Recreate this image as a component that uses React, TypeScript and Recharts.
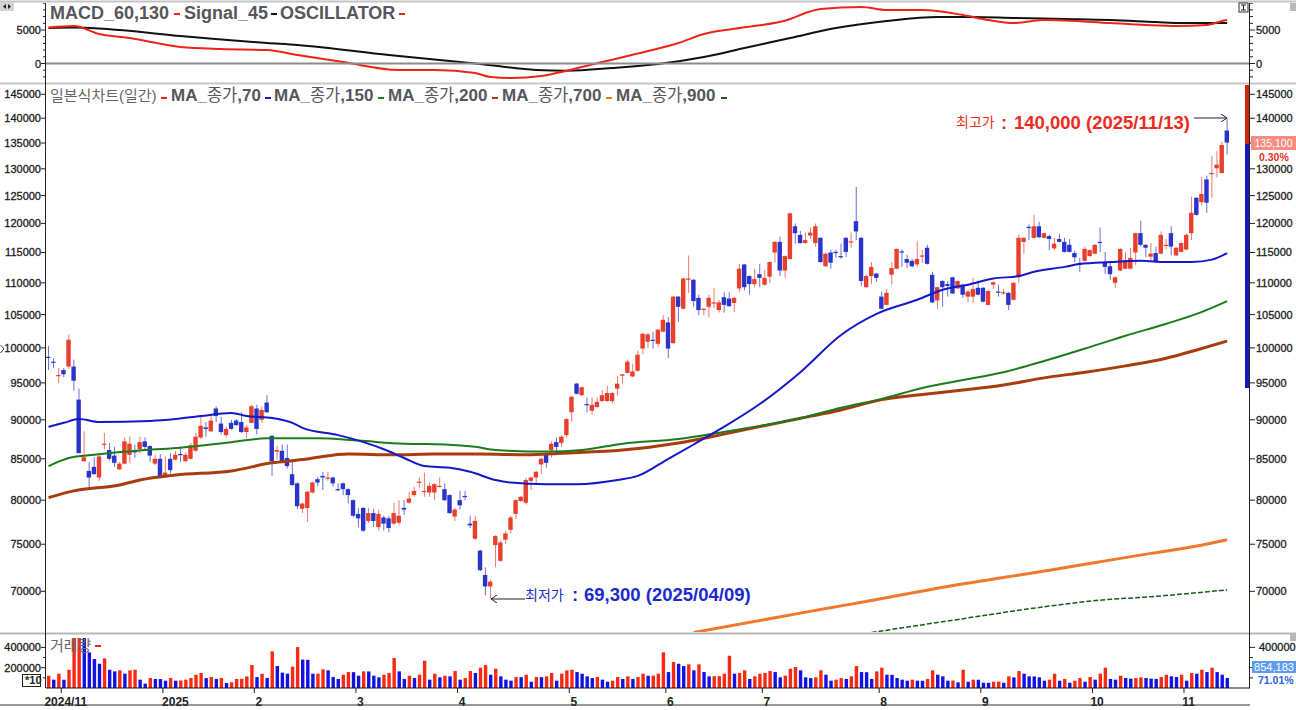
// App.tsx - HTS style candle chart (MACD / price / volume panels)
import React from "react";
import { ComposedChart, LineChart, BarChart, Bar, Line, XAxis, YAxis } from "recharts";

/* ======================================================
   DATA
====================================================== */
const opens = [
  98700,98000,96000,96800,97300,97300,92700,84700,83500,84000,
  82700,86800,86100,85400,83700,84400,85500,86000,86200,87200,
  86600,84400,85000,82800,85000,84900,85600,84700,85000,86000,
  87700,89000,88500,91500,89500,88000,89600,89900,89700,88400,
  89600,91500,90000,92300,87900,85900,86000,85100,83100,82000,
  79000,79100,80900,82500,82900,82600,82700,81300,82000,81300,
  80000,78400,79100,77600,78500,76900,78000,77900,77300,77400,
  79100,79700,80600,82100,81000,80900,80900,81600,81300,80600,
  78100,80000,80500,77300,75600,74300,71700,70500,74900,73200,
  75500,76600,78400,79900,79700,82300,82700,84300,85500,86100,
  87100,87000,88000,91000,94900,93300,92100,91200,91700,92500,
  92500,92500,94200,96000,96400,95900,96700,99900,100900,101200,
  100600,102400,103800,100700,107800,105900,110500,110500,107600,105800,
  106200,106800,105700,107700,107500,106800,109100,113000,111100,109800,
  111400,109700,111000,115000,116800,112000,113900,119500,118000,116600,
  117900,116600,117500,112700,115000,115100,114400,117500,116800,120400,
  117500,109300,111100,111500,107800,106500,111300,112300,115200,113900,
  113600,113000,114400,115800,111300,107200,110300,109800,110900,109100,
  109700,107800,107800,109200,109200,106500,109700,108600,108400,108400,
  107300,110900,116800,119400,117500,119500,117500,117800,115700,117300,
  116800,116300,114900,113100,113600,114400,114800,116800,113400,112700,
  110000,112000,112300,112300,115000,118300,116300,114300,114900,114800,
  116200,118300,114500,115100,115500,118300,124600,123800,128000,129000,
  130100,129200,137500,
];
const highs = [
  100300,98500,97100,97100,102000,98300,94200,88500,84600,85200,
  85700,88300,87000,86500,84600,87700,87800,86800,87800,87700,
  86700,85500,85600,85300,85700,86000,86600,85800,87000,88300,
  90600,89700,90700,91800,90400,89100,90000,90100,91000,89300,
  92000,92000,91800,93300,88000,86600,86800,86800,84600,82100,
  79700,81100,82200,82800,83400,83400,82800,82000,82100,81400,
  80100,79100,79200,79100,79000,78900,78200,78200,79700,80000,
  80000,81000,81600,82700,83300,82100,82000,82700,82000,80700,
  79100,81100,81100,78200,78200,74400,72500,71200,76000,75400,
  76500,78200,80100,80500,82700,82800,83500,85100,85600,87200,
  87700,88000,90200,93200,95000,94500,93000,93000,93000,94000,
  94600,93700,95900,96200,98300,97700,99600,102200,102200,102400,
  102800,104900,104600,107900,107900,110800,114500,110600,108100,106000,
  108100,109200,107300,108500,108500,107700,113100,113100,111200,112300,
  113100,112100,113500,116900,117700,114500,121900,120000,118700,118400,
  119300,120000,117600,115000,115500,115500,116500,117600,118400,126600,
  117600,111300,113400,111600,108600,109000,113400,115700,115500,114600,
  113900,117000,115400,116300,111800,109400,110400,110300,111000,110400,
  109800,108900,110800,110000,109300,108800,110200,109700,109000,108500,
  110100,118100,117600,119800,121500,120300,118400,118000,117500,118200,
  117500,117300,115300,114100,116000,115500,116400,119300,115100,113400,
  111000,115700,115100,115800,118400,120500,116400,116600,116000,118600,
  117300,119500,115900,116700,118300,124800,124700,128400,128700,132500,
  133400,135300,140000,
];
const lows = [
  96800,97100,95000,95800,97000,93900,85700,84600,81200,83100,
  82300,86200,84800,84000,83600,84300,84500,85100,85700,86000,
  84600,84200,82700,82700,83200,84800,84600,84600,84900,85900,
  87500,87800,88400,89700,88100,87700,88700,89200,88300,87600,
  89500,88100,89600,90900,82900,84900,84600,83800,81700,79000,
  78500,77500,80800,81700,81200,82300,81600,81100,80600,79600,
  78000,76900,76400,77400,76900,76500,76500,76300,77200,77100,
  78300,79600,80400,81400,80400,80400,80000,81500,79900,78400,
  77600,78900,80000,76800,75500,72100,69600,69300,72500,73100,
  75000,76200,77800,79800,79500,81200,82000,83100,83900,85200,
  86000,86500,87700,89700,93400,93200,91000,90700,91600,92400,
  92400,92200,93300,94900,96300,95800,96600,99100,100000,99900,
  100100,102300,98500,100600,103900,105800,108400,106200,104900,104900,
  104600,106000,105300,105300,106200,105400,108500,108800,108100,109300,
  109300,109500,110000,113300,111100,110800,113800,116500,116500,116500,
  117300,116000,113300,112600,112300,114100,113900,114200,115800,117100,
  109500,109200,109800,110200,105800,106400,109700,112200,112600,112400,
  112500,112600,113300,113000,106800,105900,106200,107800,108200,109000,
  107600,106900,106800,108000,106900,106400,109000,107800,108100,105700,
  107200,110000,114800,117100,117400,117500,117400,115400,115400,116700,
  115000,115000,113400,111800,113400,114300,114700,115100,111400,110500,
  109200,111900,112200,112200,112900,116000,114200,113400,113300,114700,
  115500,114500,114400,115000,115400,117100,121400,123200,121900,124600,
  128400,129100,132700,
];
const closes = [
  98600,97900,96100,96200,101200,95300,85700,85200,82700,83100,
  85300,86900,85000,84500,84400,87200,86900,85800,87100,86500,
  85400,85000,82800,83300,83600,85500,85500,85500,86700,87800,
  89200,88800,89900,90500,88400,88800,88800,89300,88400,89000,
  91800,88800,91300,91000,84700,86100,84700,84100,81800,79300,
  79600,81000,82100,82100,82700,82700,82000,81200,81300,80600,
  78200,77900,76500,78500,77600,78400,77300,76800,78500,78200,
  78900,80200,81100,82200,81100,81700,81900,81700,80000,78500,
  78900,79400,80400,77100,77600,72200,70500,71000,75900,75200,
  76200,78000,80000,80400,82400,82700,83400,85000,84500,86900,
  86500,87800,90100,93100,93500,94400,92000,92000,92400,93300,
  93600,93600,94900,96200,98000,96600,99000,102100,102000,101100,
  102700,104200,99900,107800,106200,110700,110700,107100,105700,105900,
  107600,106900,106900,106500,106300,107600,112300,109300,109800,110600,
  110800,110800,113400,116800,112000,114400,121800,118300,116600,117100,
  118400,119500,113400,114800,113300,115000,114300,115100,116900,118600,
  110300,111100,112600,110800,105900,108400,112400,115600,115100,113300,
  112700,113900,114500,113100,106900,109300,109300,109500,108300,110300,
  108100,108600,109000,108100,107000,108700,110100,108500,108500,106500,
  110000,117500,117500,119300,119500,117600,118300,117300,116500,116800,
  115100,115100,114200,113000,115600,115400,116300,116700,112600,111400,
  110900,115600,113700,114100,118300,116300,115800,114800,113400,118000,
  116300,116000,115800,116600,118000,121900,121500,125300,123700,129200,
  130800,134600,135100,
];
const volumes = [
  121000,82000,141000,81000,180000,540000,600000,560000,351000,285000,
  239000,292000,180000,164000,174000,141000,174000,180000,82000,43000,
  98000,89000,88000,72000,98000,72000,74000,82000,98000,131000,
  148000,98000,108000,89000,98000,49000,56000,89000,90000,115000,
  226000,108000,141000,98000,361000,216000,151000,141000,210000,403000,
  280000,278000,141000,142000,184000,174000,108000,89000,131000,157000,
  156000,121000,164000,163000,121000,105000,131000,148000,295000,164000,
  89000,121000,98000,131000,269000,82000,141000,105000,121000,115000,
  167000,82000,98000,167000,148000,200000,226000,131000,190000,115000,
  82000,72000,108000,107000,131000,62000,108000,107000,115000,148000,
  72000,141000,174000,180000,157000,141000,115000,98000,108000,82000,
  62000,72000,108000,89000,115000,89000,108000,141000,121000,122000,
  141000,351000,157000,256000,239000,216000,233000,174000,233000,157000,
  115000,116000,117000,141000,318000,141000,148000,174000,89000,115000,
  141000,148000,167000,157000,105000,121000,190000,207000,174000,105000,
  98000,105000,174000,131000,72000,82000,98000,89000,115000,216000,
  157000,156000,89000,164000,200000,131000,130000,98000,82000,72000,
  82000,72000,71000,89000,174000,131000,115000,72000,73000,56000,
  180000,62000,82000,81000,52000,51000,62000,63000,52000,115000,
  105000,167000,141000,115000,114000,105000,72000,82000,141000,72000,
  89000,52000,72000,98000,62000,108000,82000,141000,200000,89000,
  82000,121000,98000,92000,98000,105000,98000,92000,89000,108000,
  131000,115000,108000,131000,72000,148000,141000,180000,157000,200000,
  157000,131000,98000,
];

// 이동평균/MACD 값은 그림에서 읽은 지점만 (사이는 connectNulls)
const ma70Idx = [0,3,6,10,20,25,30,36,39,44,48,50,57,62,66,70,74,79,83,88,91,98,104,112,116,122,127,132,140,148,156,163,171,176,181,186,191,194,200,203,209,215,220,225,229,232];
const ma70Val = [89070,89600,90100,89700,89850,90100,90500,90900,90500,90250,89600,88950,88000,87100,86200,85100,84100,83900,83400,82400,82100,81900,81900,82400,82900,85000,86800,88700,92100,96500,101900,105100,107300,108900,109700,110700,111100,111800,112600,113100,113400,113600,113400,113400,113800,114900];
const ma150Idx = [0,4,9,19,26,36,43,53,61,70,78,84,88,98,105,113,124,132,140,148,156,164,172,180,188,196,204,212,220,226,232];
const ma150Val = [84100,85100,85500,86100,86400,87100,87600,87600,87300,86900,86800,86500,86100,85900,86100,86900,87500,88300,89200,90200,91600,92800,94300,95400,96500,98100,99900,101800,103600,105100,107100];
const ma200Idx = [0,5,14,18,25,36,44,50,53,59,68,76,85,94,101,113,124,132,140,148,156,164,172,180,188,196,204,212,220,226,232];
const ma200Val = [80300,81100,81800,82400,83000,83500,84500,84900,85200,85600,85500,85600,85600,85500,85700,86100,87000,88000,89100,90200,91300,92700,93400,94000,94700,95700,96500,97400,98500,99700,101000];
const ma700Idx = [127,148,158,177,197,207,217,226,232];
const ma700Val = [65900,67800,68700,70500,72200,73100,74000,74800,75500];
const ma900Idx = [162,178,197,207,217,232];
const ma900Val = [65900,67100,68500,69100,69450,70150];

const macdIdx = [0,5,10,16,26,34,43,49,58,69,76,84,87,91,97,102,109,118,124,129,136,146,149,152,160,165,172,180,185,190,196,209,216,222,228,231,232];
const macdVal = [5370,5600,4400,3800,2460,2160,2010,1270,220,-970,-970,-1420,-2010,-2160,-1870,-1070,220,1870,3060,4400,5300,6640,7540,8130,8430,7980,7980,7240,6490,6040,6490,6040,5750,5600,5750,6340,6490];
const signalIdx = [0,5,10,14,26,43,49,67,85,96,102,111,120,129,137,146,155,165,175,182,190,200,209,218,223,232];
const signalVal = [5300,5370,5220,5000,4100,3060,2760,1270,-75,-970,-1070,-670,-75,970,2310,3800,5300,6340,6940,6940,6790,6640,6490,6190,6040,6040];

const monthIdx = [3,23,41,61,81,103,122,141,164,184,206,224];
const monthLabels = ["2024/11","2025","2","3","4","5","6","7","8","9","10","11"];

const priceTicks = [145000,140000,135000,130000,125000,120000,115000,110000,105000,100000,95000,90000,85000,80000,75000,70000];
const macdTicks = [-2000,-1000,0,1000,2000,3000,4000,5000,6000,7000,8000,9000];
const macdLabels = [0,5000];
const volumeTicks = [100000,200000,300000,400000];
const volumeLabels = [200000,400000];

const BAND_COUNT = 237; // 오른쪽 여백 4칸 포함

/* ======================================================
   UTILS
====================================================== */
function sparse(idx: number[], val: number[]) {
  const m = new Map<number, number>();
  idx.forEach((k, n) => m.set(k, val[n]));
  return m;
}

const m70 = sparse(ma70Idx, ma70Val);
const m150 = sparse(ma150Idx, ma150Val);
const m200 = sparse(ma200Idx, ma200Val);
const m700 = sparse(ma700Idx, ma700Val);
const m900 = sparse(ma900Idx, ma900Val);
const mMacd = sparse(macdIdx, macdVal);
const mSignal = sparse(signalIdx, signalVal);

const table = Array.from({ length: BAND_COUNT }, (_, i) => {
  const has = i < opens.length;
  return {
    i,
    open: has ? opens[i] : null,
    close: has ? closes[i] : null,
    wick: has ? [lows[i], highs[i]] : null,
    body: has ? [Math.min(opens[i], closes[i]), Math.max(opens[i], closes[i])] : null,
    volume: has ? volumes[i] : null,
    volUp: has ? i === 0 || volumes[i] >= volumes[i - 1] : false,
    ma70: m70.get(i) ?? null,
    ma150: m150.get(i) ?? null,
    ma200: m200.get(i) ?? null,
    ma700: m700.get(i) ?? null,
    ma900: m900.get(i) ?? null,
    macd: mMacd.get(i) ?? null,
    signal: mSignal.get(i) ?? null,
  };
});

/* ======================================================
   SHAPES / TICKS
====================================================== */
const UP = "#e8402c";
const DOWN = "#2a34cc";
const FONT = '"Liberation Sans", "Noto Sans CJK KR", sans-serif';

const WickShape = (p: any) => {
  if (!p.payload || !p.payload.wick) return null;
  const up = p.payload.close >= p.payload.open;
  return <rect x={p.x} y={p.y} width={p.width} height={Math.max(Math.abs(p.height), 1)} fill={up ? UP : DOWN} fillOpacity={0.7} />;
};

const BodyShape = (p: any) => {
  if (!p.payload || !p.payload.body) return null;
  const up = p.payload.close >= p.payload.open;
  return <rect x={p.x} y={p.y} width={p.width} height={Math.max(Math.abs(p.height), 1.2)} fill={up ? UP : DOWN} />;
};

const VolumeShape = (p: any) => {
  if (!p.payload || p.payload.volume == null) return null;
  return <rect x={p.x} y={p.y} width={p.width} height={p.height} fill={p.payload.volUp ? "#fa2a12" : "#1212e6"} />;
};

function axisTick(side: "left" | "right", labels?: number[], labelDx = 6) {
  return (p: any) => {
    const v = p.payload.value;
    const major = !labels || labels.includes(v);
    const len = major ? 5 : 3;
    const x2 = side === "left" ? p.x - len : p.x + len;
    return (
      <g>
        <line x1={p.x} x2={x2} y1={p.y} y2={p.y} stroke="#222" />
        {major && (
          <text
            x={side === "left" ? p.x - 5 : p.x + labelDx}
            y={p.y + 4}
            textAnchor={side === "left" ? "end" : "start"}
            fontFamily={FONT}
            fontSize={11}
            fill="#1c1c1c"
            stroke="#1c1c1c"
            strokeWidth={0.3}
          >
            {v}
          </text>
        )}
      </g>
    );
  };
}

const MonthTick = (p: any) => {
  const n = monthIdx.indexOf(p.payload.value);
  const label = monthLabels[n];
  const dx = label === "2025" ? 10 : 2;
  return (
    <g>
      <line x1={p.x - 2.5} x2={p.x - 2.5} y1={p.y} y2={p.y + 5} stroke="#222" />
      <text x={p.x + dx} y={p.y + 18} textAnchor="middle" fontFamily={FONT} fontSize={12} fontWeight={700} fill="#222">
        {label}
      </text>
    </g>
  );
};

/* ======================================================
   LEGEND PIECES
====================================================== */
const Txt = ({ x, y, size, color, bold, children }: any) => (
  <span
    style={{
      position: "absolute",
      left: x,
      top: y,
      fontFamily: FONT,
      fontSize: size,
      color,
      fontWeight: bold ? 700 : 400,
      lineHeight: 1,
      whiteSpace: "nowrap",
    }}
  >
    {children}
  </span>
);

const Dash = ({ x, y, color }: any) => (
  <div style={{ position: "absolute", left: x, top: y, width: 6, height: 2, background: color }} />
);

const MaLabel = ({ x, n }: any) => (
  <span style={{ position: "absolute", left: x, top: 87, fontFamily: FONT, color: "#56565c", lineHeight: 1, whiteSpace: "nowrap" }}>
    <span style={{ fontSize: 17, fontWeight: 700 }}>MA_</span>
    <span style={{ fontSize: 16.5 }}>종가</span>
    <span style={{ fontSize: 17, fontWeight: 700 }}>,{n}</span>
  </span>
);

/* ======================================================
   COMPONENTE
====================================================== */
const W = 1296;
const axisCommon = { axisLine: false, tickLine: false, tickSize: 0, tickMargin: 0, interval: 0 as const, allowDataOverflow: true };
const panelMargin = { top: 0, right: 0, bottom: 0, left: 0 };

export default function App() {
  return (
    <div style={{ position: "fixed", left: 0, top: 0, width: W, height: 710, background: "#fff", overflow: "hidden" }}>
      {/* MACD */}
      <div style={{ position: "absolute", left: 0, top: 3 }}>
        <LineChart width={W} height={80} data={table} margin={panelMargin}>
          <XAxis dataKey="i" type="category" scale="band" hide />
          <YAxis yAxisId="l" orientation="left" width={46} type="number" domain={[-2910, 9030]} ticks={macdTicks} tick={axisTick("left", macdLabels)} {...axisCommon} />
          <YAxis yAxisId="r" orientation="right" width={46} type="number" domain={[-2910, 9030]} ticks={macdTicks} tick={axisTick("right", macdLabels)} {...axisCommon} />
          <Line yAxisId="l" dataKey="signal" type="monotone" stroke="#111" strokeWidth={2} dot={false} connectNulls isAnimationActive={false} />
          <Line yAxisId="l" dataKey="macd" type="monotone" stroke="#ee2418" strokeWidth={2} dot={false} connectNulls isAnimationActive={false} />
        </LineChart>
      </div>

      {/* 가격 */}
      <div style={{ position: "absolute", left: 0, top: 84 }}>
        <ComposedChart width={W} height={548} data={table} margin={panelMargin}>
          <XAxis xAxisId="w" dataKey="i" type="category" scale="band" hide />
          <XAxis xAxisId="b" dataKey="i" type="category" scale="band" hide />
          <YAxis yAxisId="l" orientation="left" width={46} scale="log" type="number" domain={[65950, 147200]} ticks={priceTicks} tick={axisTick("left")} {...axisCommon} />
          <YAxis yAxisId="r" orientation="right" width={46} scale="log" type="number" domain={[65950, 147200]} ticks={priceTicks} tick={axisTick("right")} {...axisCommon} />
          <Bar xAxisId="w" yAxisId="l" dataKey="wick" barSize={1} shape={WickShape} isAnimationActive={false} />
          <Line xAxisId="w" yAxisId="l" dataKey="ma900" type="monotone" stroke="#1d5a1d" strokeWidth={1.5} strokeDasharray="5 2" dot={false} connectNulls isAnimationActive={false} />
          <Line xAxisId="w" yAxisId="l" dataKey="ma700" type="monotone" stroke="#f0792c" strokeWidth={3} dot={false} connectNulls isAnimationActive={false} />
          <Line xAxisId="w" yAxisId="l" dataKey="ma200" type="monotone" stroke="#a83c0c" strokeWidth={3} dot={false} connectNulls isAnimationActive={false} />
          <Line xAxisId="w" yAxisId="l" dataKey="ma150" type="monotone" stroke="#1c7c1c" strokeWidth={2} dot={false} connectNulls isAnimationActive={false} />
          <Line xAxisId="w" yAxisId="l" dataKey="ma70" type="monotone" stroke="#1418c8" strokeWidth={2} dot={false} connectNulls isAnimationActive={false} />
          <Bar xAxisId="b" yAxisId="l" dataKey="body" barSize={4.4} shape={BodyShape} isAnimationActive={false} />
        </ComposedChart>
      </div>

      {/* 거래량 */}
      <div style={{ position: "absolute", left: 0, top: 638 }}>
        <BarChart width={W} height={72} data={table} margin={panelMargin}>
          <XAxis
            dataKey="i"
            type="category"
            scale="band"
            height={22}
            ticks={monthIdx}
            interval={0}
            tick={MonthTick}
            tickLine={false}
            tickSize={0}
            tickMargin={0}
            axisLine={{ stroke: "#111" }}
          />
          <YAxis yAxisId="l" orientation="left" width={46} type="number" domain={[0, 492600]} ticks={volumeTicks} tick={axisTick("left", volumeLabels)} {...axisCommon} />
          <YAxis yAxisId="r" orientation="right" width={46} type="number" domain={[0, 492600]} ticks={volumeTicks} tick={axisTick("right", [400000], 9)} {...axisCommon} />
          <Bar yAxisId="l" dataKey="volume" barSize={3.4} shape={VolumeShape} isAnimationActive={false} />
        </BarChart>
      </div>

      {/* 프레임 */}
      <svg width={W} height={710} style={{ position: "absolute", left: 0, top: 0, pointerEvents: "none" }}>
        <defs>
          <marker id="arr" markerWidth="7" markerHeight="8" refX="6" refY="4" orient="auto">
            <path d="M0,0 L6,4 L0,8" fill="none" stroke="#222" strokeWidth="1" />
          </marker>
        </defs>
        <line x1={0} x2={W} y1={1.5} y2={1.5} stroke="#c4c4c4" strokeWidth={2} />
        <line x1={0} x2={W} y1={83.5} y2={83.5} stroke="#c8c8c8" strokeWidth={2} />
        <line x1={0} x2={W} y1={633.5} y2={633.5} stroke="#b8b8b8" strokeWidth={2} />
        <line x1={46} x2={1250} y1={63.5} y2={63.5} stroke="#8c8c8c" strokeWidth={2} />
        <line x1={45.5} x2={45.5} y1={3} y2={688} stroke="#222" />
        <line x1={1249.5} x2={1249.5} y1={3} y2={688} stroke="#222" />
        <line x1={0} x2={1250} y1={705} y2={705} stroke="#333" />
        <rect x={1245} y={85} width={4} height={59} fill="#d42408" />
        <rect x={1245} y={144} width={4} height={244} fill="#1418c0" />
        <line x1={1194} x2={1227} y1={118} y2={118} stroke="#222" markerEnd="url(#arr)" />
        <line x1={525} x2={491} y1={599} y2={599} stroke="#222" markerEnd="url(#arr)" />
        <rect x={0} y={2} width={14} height={9} fill="#d4d4d4" />
        <path d="M3,6.5 L6,4 L6,9 Z M8,4 L11,6.5 L8,9 Z" fill="#222" />
        <rect x={1239} y={3} width={9} height={9} fill="#fff" stroke="#333" />
        <path d="M1241,5 h5 M1241,10 h5 M1243.5,5 v5" stroke="#222" />
        <rect x={1290} y={3} width={6} height={8} fill="#b8b8b8" />
        <rect x={1290} y={634} width={6} height={7} fill="#b8b8b8" />
        <path d="M0.5,345 L4,349 L0.5,353" fill="none" stroke="#333" />
        <rect x={22.5} y={674.5} width={18} height={12} fill="#fff" stroke="#222" />
      </svg>

      {/* 범례 */}
      <Txt x={50} y={4} size={18} color="#56565c" bold>MACD_60,130</Txt>
      <Dash x={174} y={13} color="#ee2418" />
      <Txt x={184} y={4} size={18} color="#56565c" bold>Signal_45</Txt>
      <Dash x={271} y={13} color="#111" />
      <Txt x={280} y={4} size={18} color="#56565c" bold>OSCILLATOR</Txt>
      <Dash x={399} y={13} color="#ee2418" />

      <Txt x={50} y={88} size={15} color="#666">일본식차트(일간)</Txt>
      <Dash x={161} y={97} color="#ee2418" />
      <MaLabel x={171} n={70} />
      <Dash x={265} y={97} color="#1418c8" />
      <MaLabel x={274} n={150} />
      <Dash x={378} y={97} color="#1c7c1c" />
      <MaLabel x={388} n={200} />
      <Dash x={492} y={97} color="#a83c0c" />
      <MaLabel x={502} n={700} />
      <Dash x={606} y={97} color="#f0792c" />
      <MaLabel x={616} n={900} />
      <Dash x={721} y={97} color="#1d5a1d" />

      <Txt x={50} y={638} size={15} color="#666">거래량</Txt>
      <Dash x={95} y={645} color="#ee2418" />
      <Txt x={25} y={675} size={11} color="#222" bold>*10</Txt>

      <Txt x={956} y={115} size={14} color="#e8301e">최고가</Txt>
      <Txt x={1001} y={114} size={18.5} color="#f02a1e" bold>:</Txt>
      <Txt x={1014} y={114} size={18.5} color="#f02a1e" bold>140,000 (2025/11/13)</Txt>

      <Txt x={525} y={588} size={14} color="#2030c8">최저가</Txt>
      <Txt x={572} y={586} size={18.5} color="#1a2ad0" bold>:</Txt>
      <Txt x={584} y={586} size={18.5} color="#1a2ad0" bold>69,300 (2025/04/09)</Txt>

      {/* 현재가 태그 */}
      <div style={{ position: "absolute", left: 1251, top: 136, width: 45, height: 14, background: "#f98c82", color: "#fff", fontFamily: FONT, fontSize: 10.5, lineHeight: "14px", textAlign: "center" }}>135,100</div>
      <Txt x={1259} y={152} size={10.5} color="#e8301e" bold>0.30%</Txt>
      <div style={{ position: "absolute", left: 1252, top: 661, width: 44, height: 12, background: "#5d9cf0", color: "#fff", fontFamily: FONT, fontSize: 11, lineHeight: "12px", textAlign: "center" }}>854,183</div>
      <Txt x={1258} y={675} size={10.5} color="#2a5fd8" bold>71.01%</Txt>
    </div>
  );
}
